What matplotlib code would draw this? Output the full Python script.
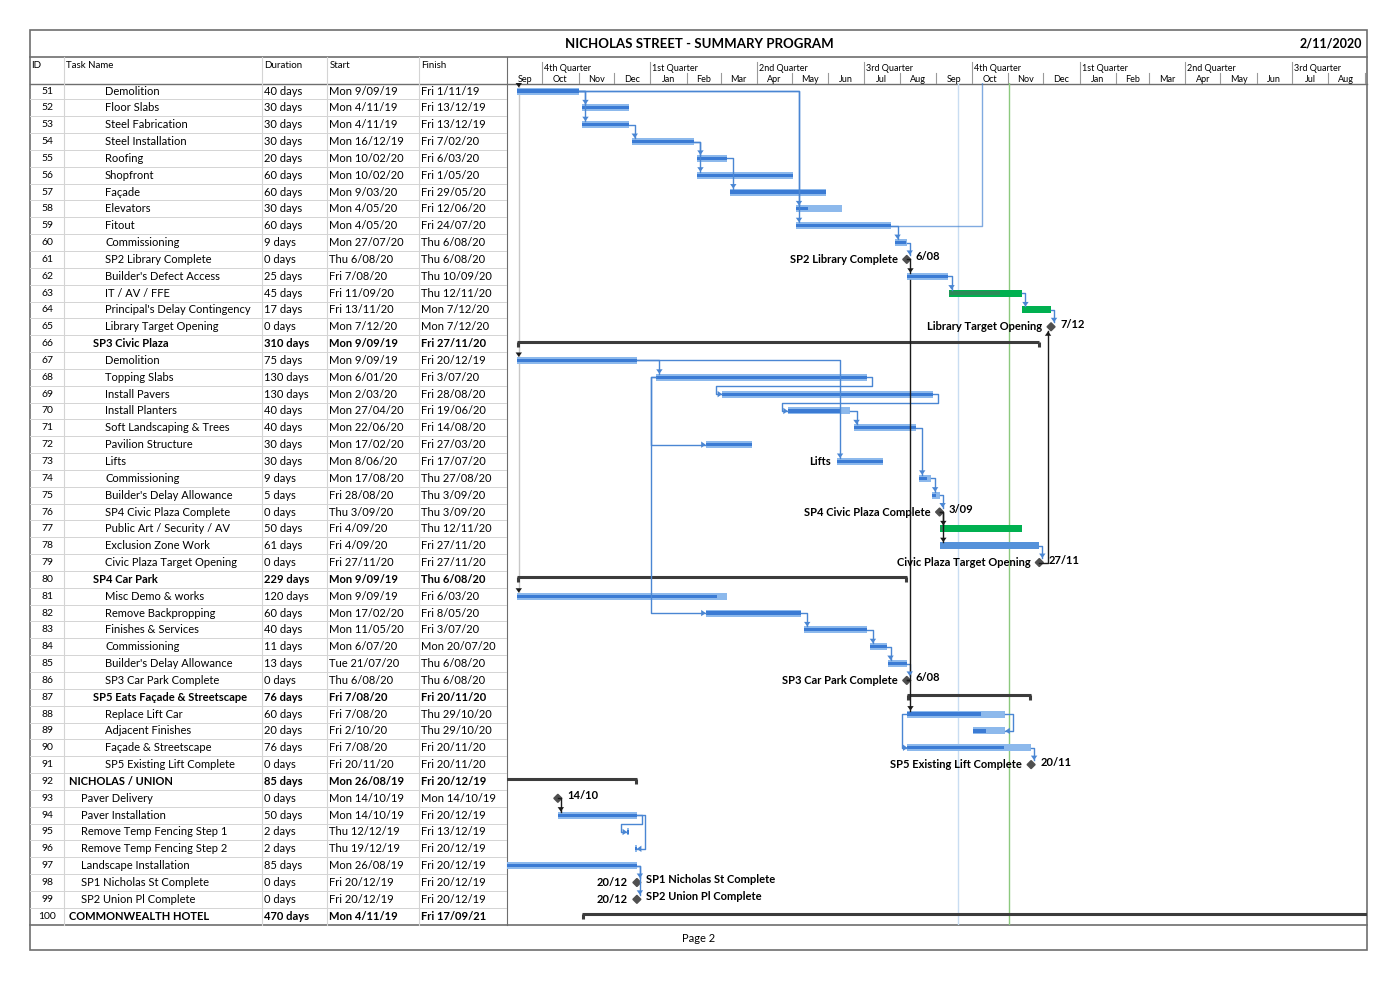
import matplotlib
matplotlib.use("Agg")
import matplotlib.pyplot as plt
import matplotlib.dates as mdates
from matplotlib.patches import Rectangle, Polygon
import pandas as pd

plt.rcParams['font.family'] = ['Lato', 'DejaVu Sans']

W, H = 1398, 981

title = "NICHOLAS STREET - SUMMARY PROGRAM"
print_date = "2/11/2020"
footer = "Page 2"
col_labels = ["ID", "Task Name", "Duration", "Start", "Finish"]

ids = list(range(51, 101))
names = [
    "Demolition", "Floor Slabs", "Steel Fabrication", "Steel Installation", "Roofing",
    "Shopfront", "Façade", "Elevators", "Fitout", "Commissioning",
    "SP2 Library Complete", "Builder's Defect Access", "IT / AV / FFE",
    "Principal's Delay Contingency", "Library Target Opening",
    "SP3 Civic Plaza", "Demolition", "Topping Slabs", "Install Pavers", "Install Planters",
    "Soft Landscaping & Trees", "Pavilion Structure", "Lifts", "Commissioning",
    "Builder's Delay Allowance", "SP4 Civic Plaza Complete", "Public Art / Security / AV",
    "Exclusion Zone Work", "Civic Plaza Target Opening",
    "SP4 Car Park", "Misc Demo & works", "Remove Backpropping", "Finishes & Services",
    "Commissioning", "Builder's Delay Allowance", "SP3 Car Park Complete",
    "SP5 Eats Façade & Streetscape", "Replace Lift Car", "Adjacent Finishes",
    "Façade & Streetscape", "SP5 Existing Lift Complete",
    "NICHOLAS / UNION", "Paver Delivery", "Paver Installation", "Remove Temp Fencing Step 1",
    "Remove Temp Fencing Step 2", "Landscape Installation", "SP1 Nicholas St Complete",
    "SP2 Union Pl Complete", "COMMONWEALTH HOTEL",
]
levels = [3] * 15 + [2] + [3] * 13 + [2] + [3] * 6 + [2] + [3] * 4 + [0] + [1] * 7 + [0]
durations = [
    "40 days", "30 days", "30 days", "30 days", "20 days", "60 days", "60 days", "30 days",
    "60 days", "9 days", "0 days", "25 days", "45 days", "17 days", "0 days",
    "310 days", "75 days", "130 days", "130 days", "40 days", "40 days", "30 days", "30 days",
    "9 days", "5 days", "0 days", "50 days", "61 days", "0 days",
    "229 days", "120 days", "60 days", "40 days", "11 days", "13 days", "0 days",
    "76 days", "60 days", "20 days", "76 days", "0 days",
    "85 days", "0 days", "50 days", "2 days", "2 days", "85 days", "0 days", "0 days",
    "470 days",
]
starts = [
    "Mon 9/09/19", "Mon 4/11/19", "Mon 4/11/19", "Mon 16/12/19", "Mon 10/02/20",
    "Mon 10/02/20", "Mon 9/03/20", "Mon 4/05/20", "Mon 4/05/20", "Mon 27/07/20",
    "Thu 6/08/20", "Fri 7/08/20", "Fri 11/09/20", "Fri 13/11/20", "Mon 7/12/20",
    "Mon 9/09/19", "Mon 9/09/19", "Mon 6/01/20", "Mon 2/03/20", "Mon 27/04/20",
    "Mon 22/06/20", "Mon 17/02/20", "Mon 8/06/20", "Mon 17/08/20", "Fri 28/08/20",
    "Thu 3/09/20", "Fri 4/09/20", "Fri 4/09/20", "Fri 27/11/20",
    "Mon 9/09/19", "Mon 9/09/19", "Mon 17/02/20", "Mon 11/05/20", "Mon 6/07/20",
    "Tue 21/07/20", "Thu 6/08/20",
    "Fri 7/08/20", "Fri 7/08/20", "Fri 2/10/20", "Fri 7/08/20", "Fri 20/11/20",
    "Mon 26/08/19", "Mon 14/10/19", "Mon 14/10/19", "Thu 12/12/19", "Thu 19/12/19",
    "Mon 26/08/19", "Fri 20/12/19", "Fri 20/12/19", "Mon 4/11/19",
]
finishes = [
    "Fri 1/11/19", "Fri 13/12/19", "Fri 13/12/19", "Fri 7/02/20", "Fri 6/03/20",
    "Fri 1/05/20", "Fri 29/05/20", "Fri 12/06/20", "Fri 24/07/20", "Thu 6/08/20",
    "Thu 6/08/20", "Thu 10/09/20", "Thu 12/11/20", "Mon 7/12/20", "Mon 7/12/20",
    "Fri 27/11/20", "Fri 20/12/19", "Fri 3/07/20", "Fri 28/08/20", "Fri 19/06/20",
    "Fri 14/08/20", "Fri 27/03/20", "Fri 17/07/20", "Thu 27/08/20", "Thu 3/09/20",
    "Thu 3/09/20", "Thu 12/11/20", "Fri 27/11/20", "Fri 27/11/20",
    "Thu 6/08/20", "Fri 6/03/20", "Fri 8/05/20", "Fri 3/07/20", "Mon 20/07/20",
    "Thu 6/08/20", "Thu 6/08/20",
    "Fri 20/11/20", "Thu 29/10/20", "Thu 29/10/20", "Fri 20/11/20", "Fri 20/11/20",
    "Fri 20/12/19", "Mon 14/10/19", "Fri 20/12/19", "Fri 13/12/19", "Fri 20/12/19",
    "Fri 20/12/19", "Fri 20/12/19", "Fri 20/12/19", "Fri 17/09/21",
]
summary_ids = [66, 80, 87, 92, 100]
# percent complete
progress = [
    100, 100, 100, 100, 100, 100, 100, 25, 100, 90, 0, 100, 70, 0, 0,
    0, 100, 100, 100, 83, 100, 100, 100, 60, 50, 0, 5, 0, 0,
    0, 95, 100, 100, 100, 100, 0,
    0, 75, 40, 78, 0,
    0, 0, 100, 100, 100, 100, 0, 0, 0,
]
green_ids = [63, 64, 77]
solid_ids = [78]
start_milestones = [93]

left_labels = {61: "SP2 Library Complete", 65: "Library Target Opening", 73: "Lifts",
               76: "SP4 Civic Plaza Complete", 79: "Civic Plaza Target Opening",
               86: "SP3 Car Park Complete", 91: "SP5 Existing Lift Complete",
               98: "20/12", 99: "20/12"}
right_labels = {61: "6/08", 65: "7/12", 76: "3/09", 79: "27/11", 86: "6/08",
                91: "20/11", 93: "14/10", 98: "SP1 Nicholas St Complete",
                99: "SP2 Union Pl Complete"}

# predecessor, successor, style, colour
links = [
    (51, 52, 'fs', 'b'), (51, 53, 'fs', 'b'), (51, 58, 'fs', 'b'), (51, 59, 'fs', 'b'),
    (53, 54, 'fs', 'b'), (54, 55, 'fs', 'b'), (54, 56, 'fs', 'b'), (55, 57, 'fs', 'b'),
    (59, 60, 'fs', 'b'), (60, 61, 'fs', 'b'), (61, 62, 'fs', 'k'), (62, 63, 'fs', 'b'),
    (63, 64, 'fs', 'b'), (64, 65, 'fs', 'b'),
    (67, 68, 'fs', 'b'), (67, 73, 'fs', 'b'), (68, 72, 'ss', 'b'), (68, 82, 'ss', 'b'),
    (68, 69, 'loop', 'b'), (69, 70, 'loop', 'b'), (70, 71, 'fs', 'b'), (71, 74, 'fs', 'b'),
    (74, 75, 'fs', 'b'), (75, 76, 'fs', 'b'), (76, 77, 'fs', 'k'), (76, 78, 'fs', 'k'),
    (78, 79, 'fs', 'b'), (79, 65, 'fs', 'k'),
    (82, 83, 'fs', 'b'), (83, 84, 'fs', 'b'), (84, 85, 'fs', 'b'), (85, 86, 'fs', 'b'),
    (86, 62, 'line', 'k'), (86, 88, 'fs', 'k'),
    (88, 89, 'ff', 'b'), (88, 90, 'ss', 'b'), (90, 91, 'fs', 'b'),
    (93, 94, 'fs', 'k'), (94, 95, 'loop', 'b'), (94, 96, 'ff', 'b'),
    (97, 98, 'fs', 'b'), (97, 99, 'fs', 'b'),
]
from_above_ids = [51, 67, 81]
offpage_link = (59, "2020-10-10")
status_date = "2020-09-19"
current_date = "2020-11-02"
quarter_labels = ["4th Quarter", "1st Quarter", "2nd Quarter", "3rd Quarter",
                  "4th Quarter", "1st Quarter", "2nd Quarter", "3rd Quarter"]
view_start, view_end = "2019-09-01", "2021-09-03"

BLUE_L = '#8DB9EC'
BLUE_D = '#3B7BD4'
LINK_B = '#4A86D3'
GREEN = '#00B050'
GRID = '#D4D4D4'
FRAME = '#6E6E6E'


def parse(s):
    return mdates.date2num(pd.to_datetime(s.split()[-1], format="%d/%m/%y"))


def fig_rect(x0, y0, x1, y1):
    return [x0 / W, 1 - y1 / H, (x1 - x0) / W, (y1 - y0) / H]


fig = plt.figure(figsize=(W / 100, H / 100), dpi=100)
bg = fig.add_axes([0, 0, 1, 1])
bg.set_xlim(0, W)
bg.set_ylim(H, 0)
bg.axis('off')

GX0, GX1 = 507, 1367
TY0, TY1 = 82.6, 924.6
PX_ROW = (TY1 - TY0) / 50.0

# frame, title, footer
bg.add_patch(Rectangle((30, 30), 1337, 920, fill=False, ec=FRAME, lw=1.2))
bg.plot([30, 1367], [57, 57], color=FRAME, lw=1.2)
bg.plot([30, 1367], [84, 84], color=FRAME, lw=1)
bg.plot([30, 1367], [924.6, 924.6], color=FRAME, lw=1.2)
bg.text(699, 44, title, ha='center', va='center', fontsize=9.5, fontweight='bold')
bg.text(1362, 43, print_date, ha='right', va='center', fontsize=9, fontweight='bold')
bg.text(699, 938, footer, ha='center', va='center', fontsize=8)

col_x = [30, 64, 262, 327, 419, GX0]
for cx in col_x[1:]:
    bg.plot([cx, cx], [57, 924.6], color=GRID if cx != GX0 else FRAME, lw=0.8)
for cx, lab in zip([31, 66, 264, 330, 421], col_labels):
    bg.text(cx, 65, lab, ha='left', va='center', fontsize=7)

# ---- table ----
tab = fig.add_axes(fig_rect(30, TY0, GX0, TY1))
tab.set_xlim(30, GX0)
tab.set_ylim(100.5, 50.5)
tab.axis('off')
for i, tid in enumerate(ids):
    tab.plot([30, GX0], [tid + 0.5, tid + 0.5], color=GRID, lw=0.7)
    bold = 'bold' if tid in summary_ids else 'normal'
    tab.text(47, tid, str(tid), ha='center', va='center', fontsize=7.5)
    tab.text(69 + 12 * levels[i], tid, names[i], ha='left', va='center', fontsize=8, fontweight=bold)
    tab.text(264, tid, durations[i], ha='left', va='center', fontsize=8, fontweight=bold)
    tab.text(329, tid, starts[i], ha='left', va='center', fontsize=8, fontweight=bold)
    tab.text(421, tid, finishes[i], ha='left', va='center', fontsize=8, fontweight=bold)

# ---- timescale ----
d0, d1 = mdates.date2num(pd.Timestamp(view_start)), mdates.date2num(pd.Timestamp(view_end))
PX_DAY = (GX1 - GX0) / (d1 - d0)

hdr = fig.add_axes(fig_rect(GX0, 57, GX1, 84))
hdr.set_xlim(d0, d1)
hdr.set_ylim(84, 57)
hdr.axis('off')
qstarts = [mdates.date2num(q) for q in pd.date_range(view_start, view_end, freq='QS')]
for q, lab in zip(qstarts, quarter_labels):
    hdr.plot([q, q], [62, 84], color='#9A9A9A', lw=0.8)
    hdr.text(q + 2 / PX_DAY, 68.5, lab, ha='left', va='center', fontsize=6.5)
months = pd.date_range(view_start, view_end, freq='MS')
for m in months:
    mx = mdates.date2num(m)
    nx = mdates.date2num(m + pd.offsets.MonthBegin(1))
    if mx not in qstarts and mx > d0:
        hdr.plot([mx, mx], [73, 84], color='#9A9A9A', lw=0.8)
    lo, hi = max(mx, d0), min(nx, d1)
    if (hi - lo) * PX_DAY > 20:
        hdr.text((lo + hi) / 2, 79.5, m.strftime('%b'), ha='center', va='center', fontsize=6.5)

# ---- gantt ----
gan = fig.add_axes(fig_rect(GX0, TY0, GX1, TY1))
gan.set_xlim(d0, d1)
gan.set_ylim(100.5, 50.5)
gan.axis('off')

px = 1 / PX_DAY
py = 1 / PX_ROW
HB = 3.5 * py

gan.axvline(mdates.date2num(pd.Timestamp(status_date)), color='#C9DDF2', lw=1)
gan.axvline(mdates.date2num(pd.Timestamp(current_date)), color='#8CC97E', lw=1)

xs_, xe_, xm_ = {}, {}, {}
for i, tid in enumerate(ids):
    s = parse(starts[i]) + 8 / 24
    f = parse(finishes[i]) + 17 / 24
    xs_[tid], xe_[tid] = s, f
    if durations[i] == "0 days":
        xm_[tid] = s if tid in start_milestones else f
        xs_[tid] = xe_[tid] = xm_[tid]

gan.plot([xs_[51] + 2 * px] * 2, [50.5, 81], color='#C8C8C8', lw=1)

for i, tid in enumerate(ids):
    s, f = xs_[tid], xe_[tid]
    if tid in summary_ids:
        y = tid - 2 * py
        gan.plot([s, f], [y, y], color='#3C3C3C', lw=2.2, solid_capstyle='butt')
        for xx in (s + 0.8 * px, f - 0.8 * px):
            gan.plot([xx, xx], [y, y + 5 * py], color='#3C3C3C', lw=2.2, solid_capstyle='butt')
    elif tid in xm_:
        x = xm_[tid]
        gan.add_patch(Polygon([(x - 4 * px, tid), (x, tid - 4 * py), (x + 4 * px, tid), (x, tid + 4 * py)],
                              closed=True, color='#4F4F4F', zorder=4))
    else:
        fc = GREEN if tid in green_ids else ('#5592DA' if tid in solid_ids else BLUE_L)
        gan.add_patch(Rectangle((s, tid - HB), f - s, 2 * HB, color=fc, lw=0, zorder=3))
        if progress[i] > 0:
            pc = '#2C8A58' if tid in green_ids else BLUE_D
            gan.add_patch(Rectangle((s, tid - 1.6 * py), (f - s) * progress[i] / 100, 3.2 * py,
                                    color=pc, lw=0, zorder=3))


def arrowhead(x, y, direction, color):
    a, b = 3.2, 4.5
    if direction == 'down':
        pts = [(x - a * px, y - b * py), (x + a * px, y - b * py), (x, y)]
    elif direction == 'up':
        pts = [(x - a * px, y + b * py), (x + a * px, y + b * py), (x, y)]
    elif direction == 'right':
        pts = [(x - b * px, y - a * py), (x - b * px, y + a * py), (x, y)]
    else:
        pts = [(x + b * px, y - a * py), (x + b * px, y + a * py), (x, y)]
    gan.add_patch(Polygon(pts, closed=True, color=color, lw=0, zorder=6))


def half(tid):
    return 4.5 * py if tid in xm_ else HB


for p, s, style, c in links:
    col = LINK_B if c == 'b' else '#1A1A1A'
    yp, ys = p, s
    if style in ('fs', 'line'):
        if style == 'fs' and ys < yp:
            xv = max(xs_[s], xe_[p]) - 3 * px
        else:
            xv = max(xs_[s], xe_[p]) + 3 * px
        yend = ys - half(s) if ys > yp else ys + half(s)
        gan.plot([xe_[p], xv, xv], [yp, yp, yend], color=col, lw=1, zorder=5)
        if style == 'fs':
            arrowhead(xv, yend, 'down' if ys > yp else 'up', col)
    elif style == 'loop':
        xa = xe_[p] + 5 * px
        xb = xs_[s] - 6 * px
        ym = yp + 0.5
        gan.plot([xe_[p], xa, xa, xb, xb, xs_[s]], [yp, yp, ym, ym, ys, ys], color=col, lw=1, zorder=5)
        arrowhead(xs_[s], ys, 'right', col)
    elif style == 'ss':
        xa = xs_[p] - 5 * px
        gan.plot([xs_[p], xa, xa, xs_[s]], [yp, yp, ys, ys], color=col, lw=1, zorder=5)
        arrowhead(xs_[s], ys, 'right', col)
    elif style == 'ff':
        xa = xe_[p] + 8 * px
        gan.plot([xe_[p], xa, xa, xe_[s]], [yp, yp, ys, ys], color=col, lw=1, zorder=5)
        arrowhead(xe_[s], ys, 'left', col)

for tid in from_above_ids:
    arrowhead(xs_[tid] + 2 * px, tid - HB, 'down', '#1A1A1A')

op_id, op_date = offpage_link
xo = mdates.date2num(pd.Timestamp(op_date))
gan.plot([xe_[op_id], xo, xo], [op_id, op_id, 50.5], color=LINK_B, lw=1, alpha=0.7, zorder=5)

for tid, lab in left_labels.items():
    x = xm_.get(tid, xs_[tid])
    off = 9 if tid in xm_ else 6
    gan.text(x - off * px, tid, lab, ha='right', va='center', fontsize=8, fontweight='bold', zorder=7)
for tid, lab in right_labels.items():
    x = xm_[tid]
    gan.text(x + 9 * px, tid - 0.15, lab, ha='left', va='center', fontsize=8, fontweight='bold', zorder=7)

fig.savefig("out.png", dpi=100)
